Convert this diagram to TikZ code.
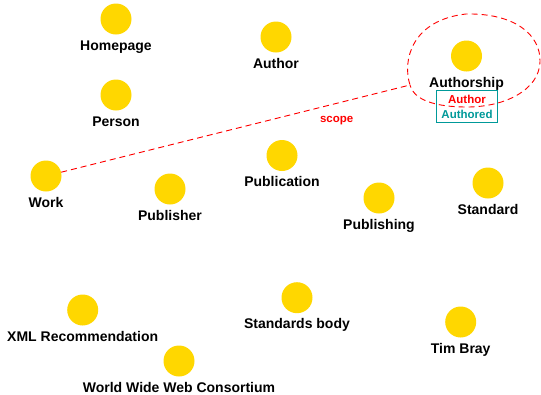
\documentclass[tikz,border=0pt]{standalone}
\usepackage{fontspec}
\setmainfont{Liberation Sans}
\usetikzlibrary{positioning}
\definecolor{termgold}{RGB}{255,215,0}
\definecolor{roleteal}{RGB}{0,153,153}
\tikzset{
	term/.style={circle, fill=termgold, minimum size=31pt, inner sep=0pt},
	termname/.style={anchor=base, inner sep=0pt, font=\fontsize{14}{16}\selectfont\bfseries},
	smalltext/.style={font=\fontsize{11.5}{15}\selectfont\bfseries},
	scopeline/.style={red, dash pattern=on 6pt off 4pt, line width=0.9pt},
}
\begin{document}
\begin{tikzpicture}[x=1pt,y=-1pt]
				\useasboundingbox (0,0) rectangle (541,394);
				% terms
				\node[term] (homepage) at (116,19){};
				\node[term] (author) at (276,37){};
				\node[term] (authorship) at (466.5,56){};
				\node[term] (person) at (116,95){};
				\node[term] (work) at (46,176){};
				\node[term] (publisher) at (170,189){};
				\node[term] (publication) at (282,155.5){};
				\node[term] (publishing) at (379,198){};
				\node[term] (standard) at (488,183){};
				\node[term] (xmlrec) at (82.7,310){};
				\node[term] (w3c) at (179,361){};
				\node[term] (stdbody) at (297,297.7){};
				\node[term] (timbray) at (460.7,322){};
				% names
				\node[termname] (homepage-l) at ([yshift=-31pt]homepage.center){Homepage};
				\node[termname] (author-l) at ([yshift=-31pt]author.center){Author};
				\node[termname] (authorship-l) at ([yshift=-31pt]authorship.center){Authorship};
				\node[termname] (person-l) at ([yshift=-31pt]person.center){Person};
				\node[termname] (work-l) at ([yshift=-31pt]work.center){Work};
				\node[termname] (publisher-l) at ([yshift=-31pt]publisher.center){Publisher};
				\node[termname] (publication-l) at ([yshift=-31pt]publication.center){Publication};
				\node[termname] (publishing-l) at ([yshift=-31pt]publishing.center){Publishing};
				\node[termname] (standard-l) at ([yshift=-31pt]standard.center){Standard};
				\node[termname] (xmlrec-l) at ([yshift=-31pt]xmlrec.center){XML Recommendation};
				\node[termname] (w3c-l) at ([yshift=-31pt]w3c.center){World Wide Web Consortium};
				\node[termname] (stdbody-l) at ([yshift=-31pt]stdbody.center){Standards body};
				\node[termname] (timbray-l) at ([yshift=-31pt]timbray.center){Tim Bray};
				% roles of authorship
				\node[draw=roleteal, line width=0.8pt, smalltext, align=center, inner xsep=4.75pt, inner ysep=4.2pt, anchor=north] (roles) at (467,90.3){\textcolor{red}{Author}\\\textcolor{roleteal}{Authored}};
				% scope
				\coordinate (kink) at (410,85);
				\draw[scopeline](work)--(kink) .. controls (402,60) and (412,20) .. (466,14)
					.. controls (515,13) and (541,35) .. (540,62)
					.. controls (539,90) and (505,107) .. (467,107)
					.. controls (435,107) and (414,100) .. (kink);
				\node[smalltext, text=red, anchor=base, inner sep=0pt] (scope-l) at (336.7,122.7){scope};
\end{tikzpicture}
\end{document}
